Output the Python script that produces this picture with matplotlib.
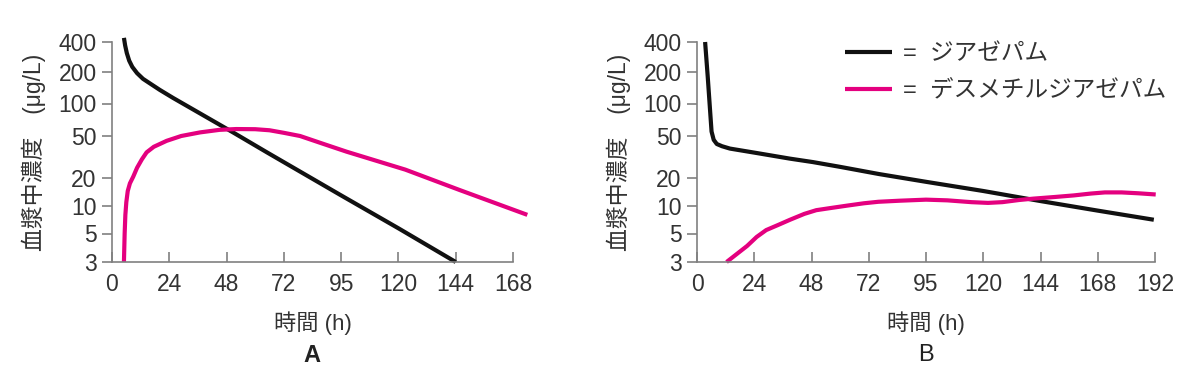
import numpy as np
import matplotlib
matplotlib.use("Agg")
import matplotlib.pyplot as plt

plt.rcParams['font.family'] = ['Liberation Sans', 'Noto Sans CJK JP']

# y ticks of the (hand drawn) log axis and where they sit, in px from the bottom
y_ticks = [3, 5, 10, 20, 50, 100, 200, 400]
y_tick_pos = [0, 28.5, 56, 84, 126, 158.5, 190, 220]

# panel A (single dose)
a_xticks = [0, 24, 48, 72, 96, 120, 144, 168]
a_xlabels = ['0', '24', '48', '72', '95', '120', '144', '168']
a_diaz_t = [5.0, 5.5, 6.2, 7.2, 8.5, 10.5, 13, 16, 20, 25.6, 50.7, 64.9,
            78.8, 96, 120, 144]
a_diaz_v = [440, 370, 310, 260, 225, 195, 172, 155, 135, 113, 54, 35,
            23, 13, 5.7, 3]
a_desm_t = [5.0, 5.3, 5.6, 6.0, 6.6, 7.5, 8.9, 10.5, 12.5, 14.5, 17.5, 22.9,
            29, 36.9, 45, 52, 60, 66, 72, 78.8, 88, 98.3, 122.9, 145.8, 174]
a_desm_v = [3, 5, 8, 11, 14.5, 17.5, 20.6, 25, 30, 35, 39.5, 45,
            50, 54, 57, 58, 57.8, 56.5, 53.5, 50, 42.5, 35.5, 24, 14.8, 8.0]

# panel B
b_xticks = [0, 24, 48, 72, 96, 120, 144, 168, 192]
b_xlabels = ['0', '24', '48', '72', '95', '120', '144', '168', '192']
b_diaz_t = [3.4, 4.5, 5.5, 6.1, 7.0, 8.3, 10.5, 13.8, 25, 39, 48.6, 60,
            76.3, 96, 120, 144, 168, 191.5]
b_diaz_v = [400, 180, 85, 55, 46, 42, 40, 38, 34.5, 30.5, 28.3, 25.5,
            21.8, 18.2, 14.5, 11.3, 8.9, 7.07]
b_desm_t = [12.4, 17, 21, 25, 29, 34, 39, 45, 50, 56, 63, 70, 76, 85, 96,
            105, 115, 122, 128, 135, 141, 150, 158, 165, 171, 178, 185, 192.3]
b_desm_v = [3, 3.5, 4.0, 4.7, 5.45, 6.2, 7.07, 8.2, 9.0, 9.5, 10.1, 10.7,
            11.1, 11.4, 11.7, 11.5, 11.0, 10.8, 11.0, 11.6, 12.0, 12.5, 13.0,
            13.6, 14.0, 14.0, 13.7, 13.3]

names = ['=  ジアゼパム', '=  デスメチルジアゼパム']
black = '#111111'
pink = '#e4007f'
grey = '#808080'
txt = '#333333'

# extend the table a little so values past the end ticks still map
lt = np.log10([1] + y_ticks + [1000])
lp = np.array([-61] + y_tick_pos + [259.7])


def fwd(v):
    v = np.clip(np.asarray(v, dtype=float), 1e-3, None)
    return np.interp(np.log10(v), lt, lp)


def inv(p):
    return 10 ** np.interp(np.asarray(p, dtype=float), lp, lt)


def style(ax, xmax, xticks, xlabels):
    ax.set_yscale('function', functions=(fwd, inv))
    ax.set_ylim(3, 400)
    ax.set_xlim(0, xmax)
    ax.set_yticks(y_ticks, [str(v) for v in y_ticks])
    ax.yaxis.set_minor_locator(matplotlib.ticker.NullLocator())
    ax.set_xticks(xticks, xlabels)
    for s in ['top', 'right']:
        ax.spines[s].set_visible(False)
    for s in ['left', 'bottom']:
        ax.spines[s].set_color(grey)
        ax.spines[s].set_linewidth(1.2)
    ax.tick_params(axis='y', direction='out', length=7, width=1.2, color=grey,
                   labelsize=16.5, labelcolor=txt, pad=4)
    ax.tick_params(axis='x', direction='in', length=7, width=1.2, color=grey,
                   labelsize=16.5, labelcolor=txt, pad=8)
    ax.set_ylabel('血漿中濃度\u3000(μg/L)', fontsize=16.5, color=txt,
                  labelpad=9)
    ax.set_xlabel('時間 (h)', fontsize=16, color=txt, labelpad=11)


fig = plt.figure(figsize=(12, 3.82), dpi=100)
ax_a = fig.add_axes([112 / 1200, 120 / 382, 401 / 1200, 220 / 382])
ax_b = fig.add_axes([697 / 1200, 120 / 382, 458 / 1200, 220 / 382])

ax_a.plot(a_diaz_t, a_diaz_v, color=black, lw=3, clip_on=False,
          solid_capstyle='butt')
ax_a.plot(a_desm_t, a_desm_v, color=pink, lw=3, clip_on=False,
          solid_capstyle='butt')
style(ax_a, 168, a_xticks, a_xlabels)

l1, = ax_b.plot(b_diaz_t, b_diaz_v, color=black, lw=3, clip_on=False,
                solid_capstyle='butt')
l2, = ax_b.plot(b_desm_t, b_desm_v, color=pink, lw=3, clip_on=False,
                solid_capstyle='butt')
style(ax_b, 192, b_xticks, b_xlabels)

fig.legend([l1, l2], names, loc='upper left',
           bbox_to_anchor=(833 / 1200, 1 - 31 / 382), frameon=False,
           fontsize=17, handlelength=2.0, handletextpad=0.45, borderpad=0,
           labelspacing=0.66, labelcolor=txt)

fig.text(312 / 1200, 1 - 355 / 382, 'A', fontsize=17, fontweight='bold',
         color='#222222', ha='center', va='center')
fig.text(926 / 1200, 1 - 355 / 382, 'B', fontsize=17, color='#222222',
         ha='center', va='center')

fig.savefig('out.png', dpi=100)
